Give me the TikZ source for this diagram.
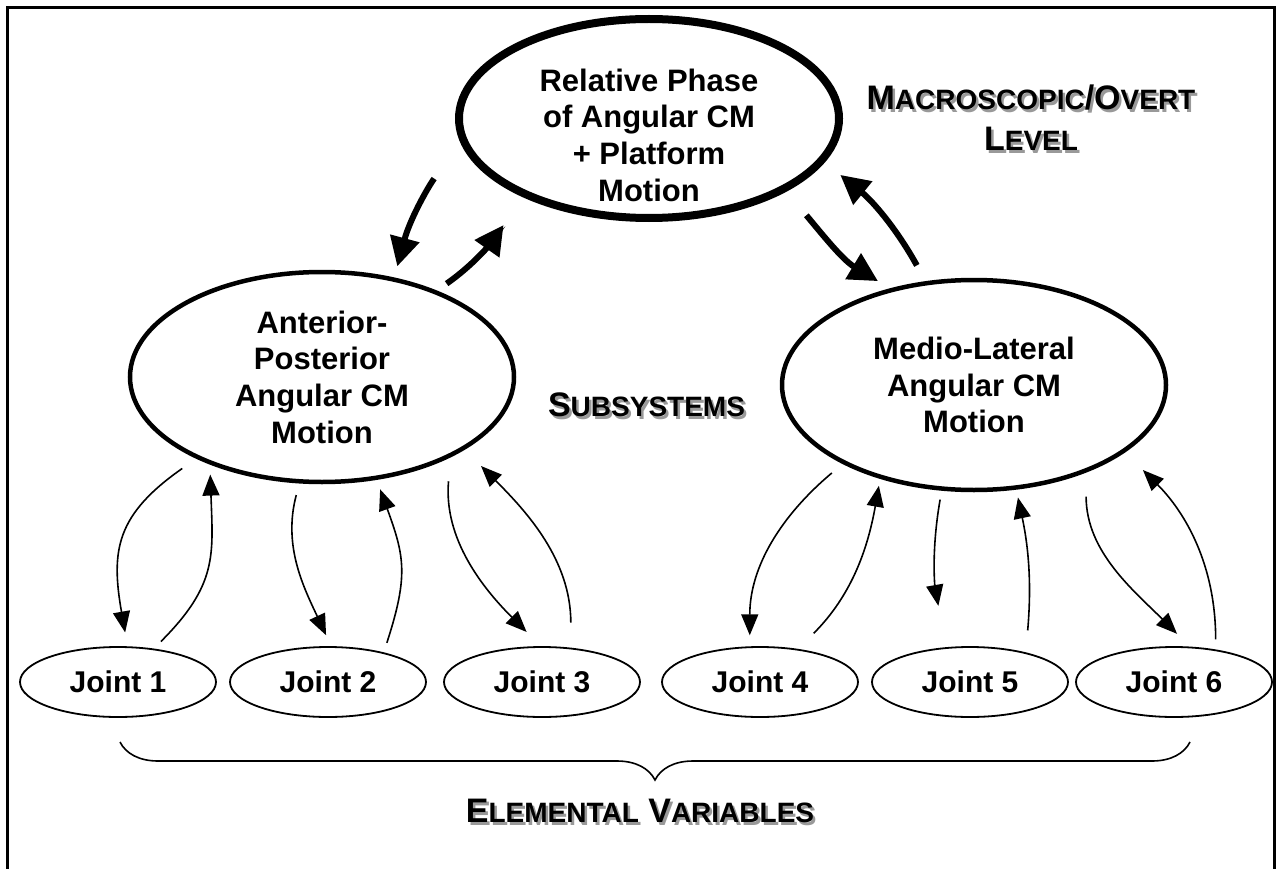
\documentclass[tikz,border=0pt]{standalone}
\usepackage{fontspec}
\setmainfont{Liberation Sans}
\usetikzlibrary{arrows.meta,shapes.geometric,decorations.pathreplacing}

\newcommand{\lvlbig}[1]{{\fontsize{34}{41}\selectfont #1}}
\newcommand{\lvlsm}[1]{{\fontsize{28}{41}\selectfont #1}}

\begin{document}
\begin{tikzpicture}[x=1pt, y=1pt,
  relph/.style={draw, ellipse, line width=8pt, minimum width=380pt, minimum height=199pt, inner sep=0pt},
  subell/.style={draw, ellipse, line width=4.5pt, minimum width=384pt, minimum height=210pt, inner sep=0pt},
  jnt/.style={draw, ellipse, line width=1.8pt, minimum width=196pt, minimum height=70pt, inner sep=0pt, font=\fontsize{30}{36}\selectfont\bfseries},
  etxt/.style={align=center, inner sep=0pt, font=\fontsize{31}{36.7}\selectfont\bfseries},
  bigarr/.style={-{Triangle[length=29pt,width=29pt]}, line width=6pt},
  thinarr/.style={-{Triangle[length=21pt,width=17pt]}, line width=1.6pt},
  lvl/.style={align=center, inner sep=0pt, font=\fontsize{34}{41}\selectfont\bfseries},
  lvlsh/.style={lvl, text=black!40},
  brc/.style={decorate, decoration={brace, mirror, amplitude=38pt}, line width=1.6pt}
]
\useasboundingbox (0,0) rectangle (1276,-869);
\draw[line width=2.8pt] (7.3,-869) |- (1274.5,-7.3) -- (1274.5,-869);

% levels
\node[relph] (rp) at (649,-118.5) {};
\node[etxt] (rptxt) at (649,-135) {Relative Phase\\of Angular CM\\+ Platform\\Motion};
\node[subell] (ap) at (322,-377) {};
\node[etxt] (aptxt) at (ap) {Anterior-\\Posterior\\Angular CM\\Motion};
\node[subell] (ml) at (974,-385) {};
\node[etxt] (mltxt) at (ml) {Medio-Lateral\\Angular CM\\Motion};

\node[jnt] (j1) at (118,-682) {Joint 1};
\node[jnt] (j2) at (328,-682) {Joint 2};
\node[jnt] (j3) at (542,-682) {Joint 3};
\node[jnt] (j4) at (760,-682) {Joint 4};
\node[jnt] (j5) at (970,-682) {Joint 5};
\node[jnt] (j6) at (1174,-682) {Joint 6};

% coupling between levels
\draw[bigarr, shorten <=45pt, shorten >=11.5pt] (rp.187) to[out=235, in=75] (ap.54);
\draw[bigarr, shorten <=12pt, shorten >=34pt] (ap.37) to[out=35, in=235] (rp.212);
\draw[bigarr, shorten <=31pt, shorten >=14pt] (rp.332) to[out=-50, in=149] (ml.131);
\draw[bigarr, shorten <=18pt, shorten >=20pt] (ml.115) to[out=119, in=-39] (rp.346);

\draw[thinarr, shorten <=17pt, shorten >=14pt] (ap.213) to[out=215, in=100, looseness=1.25] (j1.75);
\draw[thinarr, shorten <=10pt, shorten >=10pt] (j1.43) to[out=45, in=272, looseness=1.2] (ap.218);
\draw[thinarr, shorten <=12pt, shorten >=12pt] (ap.258) to[out=255, in=115] (j2.85);
\draw[thinarr, shorten <=10pt, shorten >=10pt] (j2.28) to[out=72, in=290, looseness=1.2] (ap.298);
\draw[thinarr, shorten <=24pt, shorten >=20pt] (ap.328) to[out=265, in=135] (j3.92);
\draw[thinarr, shorten <=25pt, shorten >=23pt] (j3.50) to[out=90, in=315] (ap.333);

\draw[thinarr, shorten <=14pt, shorten >=11pt] (ml.211) to[out=220, in=90] (j4.106);
\draw[thinarr, shorten <=22pt, shorten >=7pt] (j4.41) to[out=45, in=260] (ml.225);
\draw[thinarr, shorten <=9pt, shorten >=42pt] (ml.253) to[out=260, in=100] (j5.125);
\draw[thinarr, shorten <=22pt, shorten >=8pt] (j5.28) to[out=85, in=282] (ml.292);
\draw[thinarr, shorten <=24pt, shorten >=18pt] (ml.322) to[out=270, in=135] (j6.66);
\draw[thinarr, shorten <=10pt, shorten >=25pt] (j6.38) to[out=90, in=315] (ml.336);

% brace under the joints
\coordinate (brl) at (120,-742);
\coordinate (brr) at (1190,-742);
\draw[brc] (brl) -- (brr);

% level names
\node[lvlsh] (macsh) at (1033.5,-120.5) {\lvlbig{M}\lvlsm{ACROSCOPIC}\lvlbig{/O}\lvlsm{VERT}\\\lvlbig{L}\lvlsm{EVEL}};
\node[lvl] (mac) at (1031,-118) {\lvlbig{M}\lvlsm{ACROSCOPIC}\lvlbig{/O}\lvlsm{VERT}\\\lvlbig{L}\lvlsm{EVEL}};
\node[lvlsh] (subsh) at (649,-407.5) {\lvlbig{S}\lvlsm{UBSYSTEMS}};
\node[lvl] (sub) at (646.5,-405) {\lvlbig{S}\lvlsm{UBSYSTEMS}};
\node[lvlsh] (elsh) at (642.5,-813.5) {\lvlbig{E}\lvlsm{LEMENTAL} \lvlbig{V}\lvlsm{ARIABLES}};
\node[lvl] (el) at (640,-811) {\lvlbig{E}\lvlsm{LEMENTAL} \lvlbig{V}\lvlsm{ARIABLES}};
\end{tikzpicture}
\end{document}
